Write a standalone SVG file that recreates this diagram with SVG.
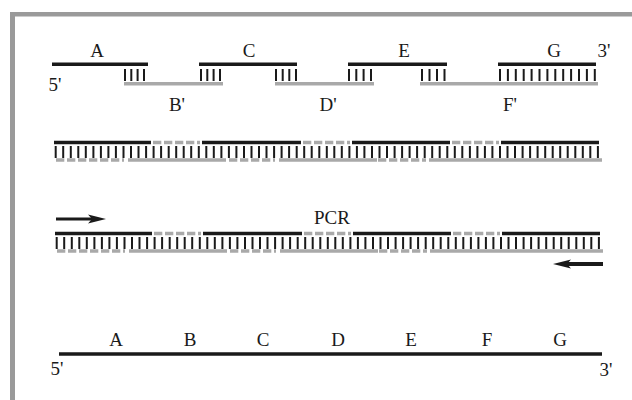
<svg xmlns="http://www.w3.org/2000/svg" xmlns:xlink="http://www.w3.org/1999/xlink" width="632" height="400" viewBox="0 0 632 400">
<style>
.t{font-family:"Liberation Serif","Times New Roman",serif;font-size:19px;fill:#1a1a1a;text-anchor:middle}
.blk{stroke:#1a1a1a;stroke-width:3.4;fill:none}
.gry{stroke:#a9a9a9;stroke-width:3.4;fill:none}
.dsh{stroke:#a9a9a9;stroke-width:3.4;fill:none;stroke-dasharray:8.3 2.7}
.tk{stroke:#1a1a1a;stroke-width:2;fill:none}
</style>
<defs>
<g id="duplex">
<path class="blk" d="M54 142.5H151M202 142.5H301M352 142.5H450M501 142.5H599"/>
<path class="dsh" d="M153 142.5H200M303 142.5H350M452 142.5H499"/>
<path class="tk" d="M55.7 146V158M63.2 146V158M70.8 146V158M78.3 146V158M85.8 146V158M93.4 146V158M100.9 146V158M108.4 146V158M115.9 146V158M123.5 146V158M131 146V158M138.5 146V158M146.1 146V158M153.6 146V158M161.1 146V158M168.7 146V158M176.2 146V158M183.7 146V158M191.2 146V158M198.8 146V158M206.3 146V158M213.8 146V158M221.4 146V158M228.9 146V158M236.4 146V158M244 146V158M251.5 146V158M259 146V158M266.5 146V158M274.1 146V158M281.6 146V158M289.1 146V158M296.7 146V158M304.2 146V158M311.7 146V158M319.3 146V158M326.8 146V158M334.3 146V158M341.8 146V158M349.4 146V158M356.9 146V158M364.4 146V158M372 146V158M379.5 146V158M387 146V158M394.6 146V158M402.1 146V158M409.6 146V158M417.1 146V158M424.7 146V158M432.2 146V158M439.7 146V158M447.3 146V158M454.8 146V158M462.3 146V158M469.9 146V158M477.4 146V158M484.9 146V158M492.4 146V158M500 146V158M507.5 146V158M515 146V158M522.6 146V158M530.1 146V158M537.6 146V158M545.2 146V158M552.7 146V158M560.2 146V158M567.7 146V158M575.3 146V158M582.8 146V158M590.3 146V158M597.9 146V158"/>
<path class="dsh" d="M56 160H124M229 160H275M378 160H426"/>
<path class="gry" d="M128 160H226M279 160H377M429 160H602"/>
</g>
</defs>
<g id="frame">
<rect x="10" y="12" width="622" height="4.5" fill="#9a9a9a"/>
<rect x="10" y="12" width="5" height="388" fill="#9a9a9a"/>
</g>
<g id="oligos">
<path class="blk" d="M52 64.3H148M199 64.3H297M348 64.3H447M498 64.3H596"/>
<path class="gry" d="M124 83.7H223M275 83.7H374M420 83.7H598"/>
<path class="tk" d="M125 69V81M131.3 69V81M137.6 69V81M144 69V81M201 69V81M207.3 69V81M213.6 69V81M220 69V81M276 69V81M282.7 69V81M289.3 69V81M296 69V81M349 69V81M356.3 69V81M363.6 69V81M371 69V81M422 69V81M429.5 69V81M437 69V81M444.5 69V81M500 69V81M507.9 69V81M515.8 69V81M523.7 69V81M531.6 69V81M539.5 69V81M547.4 69V81M555.3 69V81M563.2 69V81M571.1 69V81M579 69V81M586.9 69V81M594.8 69V81"/>
<text class="t" x="97" y="57">A</text>
<text class="t" x="249" y="57">C</text>
<text class="t" x="404" y="57">E</text>
<text class="t" x="554" y="57">G</text>
<text class="t" x="604" y="57">3'</text>
<text class="t" x="55" y="91">5'</text>
<text class="t" x="177" y="111">B'</text>
<text class="t" x="328" y="111">D'</text>
<text class="t" x="510" y="111">F'</text>
</g>
<g id="annealed">
<use xlink:href="#duplex" href="#duplex"/>
</g>
<g id="pcr">
<use xlink:href="#duplex" href="#duplex" transform="translate(1,91)"/>
<text class="t" x="332" y="224">PCR</text>
</g>
<g id="connectors">
<path d="M56 219H94" stroke="#1a1a1a" stroke-width="3.2"/>
<polygon points="88,214.5 106,219 88,223.5 92,219" fill="#1a1a1a"/>
<path d="M566 264H603" stroke="#1a1a1a" stroke-width="4"/>
<polygon points="571,259.5 553,264 571,268.5 567,264" fill="#1a1a1a"/>
</g>
<g id="product">
<path class="blk" d="M59 354H602"/>
<text class="t" x="116" y="346">A</text>
<text class="t" x="190" y="346">B</text>
<text class="t" x="263" y="346">C</text>
<text class="t" x="338" y="346">D</text>
<text class="t" x="411" y="346">E</text>
<text class="t" x="487" y="346">F</text>
<text class="t" x="560" y="346">G</text>
<text class="t" x="57" y="375">5'</text>
<text class="t" x="606" y="376">3'</text>
</g>
</svg>
